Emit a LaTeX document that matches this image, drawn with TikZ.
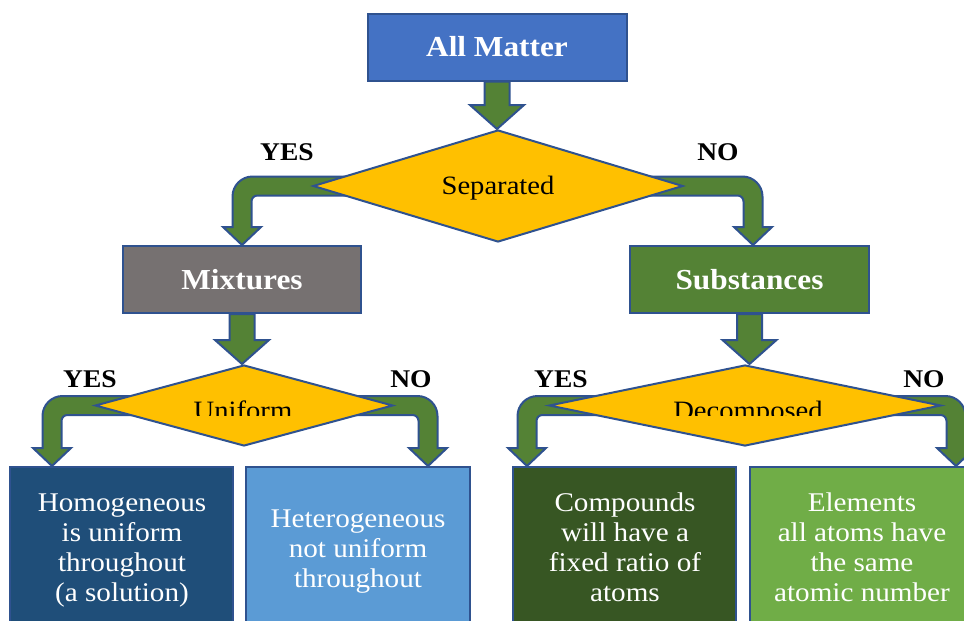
\documentclass[tikz,border=0pt]{standalone}
\usepackage{fontspec}
\setmainfont[FakeStretch=1.08]{Liberation Serif}
\usetikzlibrary{shapes.geometric,calc}
\pgfdeclarelayer{bgfill}
\pgfdeclarelayer{arr}
\pgfsetlayers{bgfill,arr,main}
\definecolor{bordc}{HTML}{2F528F}
\definecolor{blueA}{HTML}{4472C4}
\definecolor{greyA}{HTML}{767171}
\definecolor{greenA}{HTML}{548235}
\definecolor{ambr}{HTML}{FFC000}
\definecolor{navyA}{HTML}{1F4E79}
\definecolor{skyA}{HTML}{5B9BD5}
\definecolor{darkgA}{HTML}{375623}
\definecolor{lightgA}{HTML}{70AD47}
\newcommand\sarrow[2]{%
 \draw[blockarrow] let \p1=(#1), \p2=(#2) in
 (\x1-12.5pt,\y1) -- (\x1-12.5pt,\y2+24pt) -- (\x1-27pt,\y2+24pt) -- (\x1,\y2)
 -- (\x1+27pt,\y2+24pt) -- (\x1+12.5pt,\y2+24pt) -- (\x1+12.5pt,\y1) -- cycle;}
\newcommand\barrow[3]{%
 \draw[blockarrow] let \p1=(#2), \p2=(#3) in
 ({\x1-(#1)*50pt},{\y1+9.5pt}) -- ({\x2+(#1)*9.5pt-(#1)*20pt},{\y1+9.5pt})
 .. controls ({\x2+(#1)*9.5pt-(#1)*9pt},{\y1+9.5pt}) and ({\x2+(#1)*9.5pt},{\y1+0.5pt}) .. ({\x2+(#1)*9.5pt},{\y1-10.5pt})
 -- ({\x2+(#1)*9.5pt},{\y2+18pt}) -- ({\x2+(#1)*19pt},{\y2+18pt}) -- (\x2,\y2)
 -- ({\x2-(#1)*19pt},{\y2+18pt}) -- ({\x2-(#1)*9.5pt},{\y2+18pt})
 -- ({\x2-(#1)*9.5pt},{\y1-15.5pt}) .. controls ({\x2-(#1)*9.5pt},{\y1-12.2pt}) and ({\x2-(#1)*12.2pt},{\y1-9.5pt}) .. ({\x2-(#1)*15.5pt},{\y1-9.5pt})
 -- ({\x1-(#1)*50pt},{\y1-9.5pt}) -- cycle;}
\tikzset{
 box/.style={rectangle, draw=bordc, line width=2pt, inner sep=0pt},
 dia/.style={diamond, draw=bordc, fill=ambr, line width=2pt, inner sep=0pt},
 blockarrow/.style={draw=bordc, fill=greenA, line width=2pt, line join=miter},
 headtxt/.style={font=\fontsize{29}{30}\selectfont\bfseries, text=white},
 yn/.style={font=\fontsize{25.5}{27}\selectfont\bfseries, anchor=base},
 bodytxt/.style={font=\fontsize{27}{30}\selectfont, text=white, align=center},
 qtext/.style={font=\fontsize{26.5}{30}\selectfont, anchor=base}
}
\begin{document}
\begin{tikzpicture}[x=1pt,y=-1pt]
\useasboundingbox (0,0) rectangle (964,621);
\begin{pgfonlayer}{bgfill}\fill[white] (0,0) rectangle (964,621);\end{pgfonlayer}

% boxes
\node[box, fill=blueA, minimum width=259pt, minimum height=67pt, headtxt] (allm) at (497,47) {All Matter};
\node[box, fill=greyA, minimum width=238pt, minimum height=67pt, headtxt] (mix) at (242,279.5) {Mixtures};
\node[box, fill=greenA, minimum width=239pt, minimum height=67pt, headtxt] (subs) at (749.5,279.5) {Substances};

% diamonds
\node[dia, minimum width=370pt, minimum height=112pt] (sep) at (498,186) {};
\node[qtext] (septxt) at (498,194) {Separated};
\node[dia, minimum width=298pt, minimum height=81pt] (uni) at (244,405.5) {};
\node[dia, minimum width=392pt, minimum height=81pt] (dec) at (745,405.5) {};
\begin{scope}
\clip (100,380) rectangle (940,415);
\node[qtext] (unitxt) at (243,419) {Uniform};
\node[qtext] (dectxt) at (748,419) {Decomposed};
\end{scope}

% bottom boxes
\node[box, fill=navyA, minimum width=223pt, minimum height=175pt] (homo) at (121.5,554.5) {};
\node[box, fill=skyA, minimum width=224pt, minimum height=175pt] (hete) at (358,554.5) {};
\node[box, fill=darkgA, minimum width=223pt, minimum height=175pt] (comp) at (624.5,554.5) {};
\node[box, fill=lightgA, minimum width=224pt, minimum height=175pt] (elem) at (862,554.5) {};
\node[bodytxt] (homot) at (122,551) {Homogeneous\\is uniform\\throughout\\(a solution)};
\node[bodytxt] (hetet) at (358,551.5) {Heterogeneous\\not uniform\\throughout};
\node[bodytxt] (compt) at (625,547) {Compounds\\will have a\\fixed ratio of\\atoms};
\node[bodytxt] (elemt) at (862,547) {Elements\\all atoms have\\the same\\atomic number};

% yes / no labels
\node[yn] (y1) at (287,160) {YES};
\node[yn] (n1) at (718,160) {NO};
\node[yn] (y2) at (90,387) {YES};
\node[yn] (n2) at (411,387) {NO};
\node[yn] (y3) at (561,387) {YES};
\node[yn] (n3) at (924,387) {NO};

% arrow tips
\coordinate (tB) at (753,245);
\coordinate (tC) at (52,466);
\coordinate (tD) at (428,466);
\coordinate (tE) at (527,466);
\coordinate (tF) at (956,466);

\begin{pgfonlayer}{arr}
\sarrow{allm.south}{sep.north}
\sarrow{mix.south}{uni.north}
\sarrow{subs.south}{dec.north}
\barrow{-1}{sep.west}{mix.north}
\barrow{1}{sep.east}{tB}
\barrow{-1}{uni.west}{tC}
\barrow{1}{uni.east}{tD}
\barrow{-1}{dec.west}{tE}
\barrow{1}{dec.east}{tF}
\end{pgfonlayer}
\end{tikzpicture}
\end{document}
